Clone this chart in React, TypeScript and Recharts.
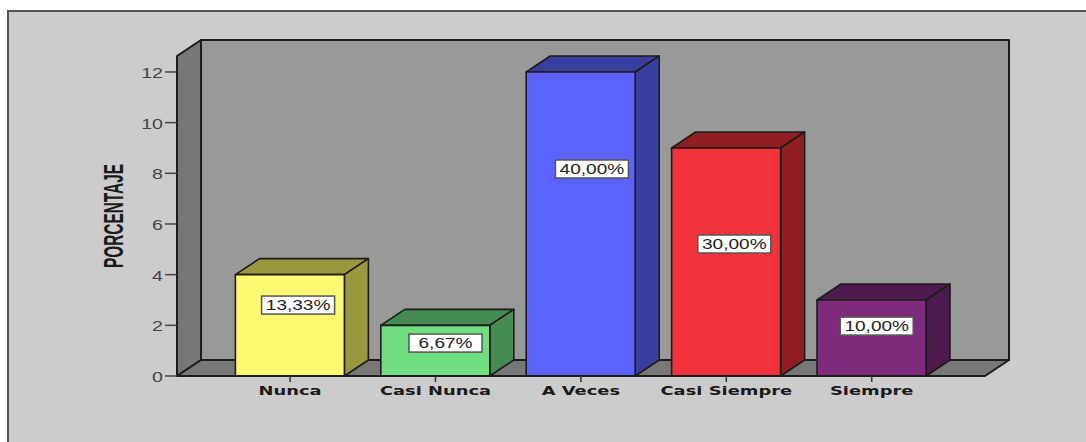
import React from 'react';
import { BarChart, Bar, Cell, XAxis, YAxis, ReferenceDot, usePlotArea } from 'recharts';

const categories = ['Nunca', 'Casi Nunca', 'A Veces', 'Casi Siempre', 'Siempre'];
const counts = [4, 2, 12, 9, 3];
const percentLabels = ['13,33%', '6,67%', '40,00%', '30,00%', '10,00%'];
// height of each label box
const labelLevels = [2.8, 1.3, 8.17, 5.21, 1.97];
const yTicks = [0, 2, 4, 6, 8, 10, 12];

const barColors = ['#fdf871', '#70dd80', '#5b63ff', '#f3333b', '#7f2a7d'];
const sideColors = ['#99983f', '#458b52', '#3a3f9f', '#8f1f23', '#4c1a4c'];
const labelShift = [8, 10, 11, 8, 5];

const DX = 24;
const DY = 16;
const EDGE = '#1c1c1c';

const data = categories.map((name, i) => ({ name, count: counts[i] }));

const Walls = () => {
  const plot = usePlotArea();
  if (!plot) return null;
  const { x, y, width, height } = plot;
  const b = y + height;
  const r = x + width;
  return (
    <g stroke={EDGE} strokeWidth={2} strokeLinejoin="round">
      <rect x={x + DX} y={y - DY} width={width} height={height} fill="#999999" />
      <polygon points={`${x},${y} ${x + DX},${y - DY} ${x + DX},${b - DY} ${x},${b}`} fill="#777777" />
      <polygon points={`${x},${b} ${x + DX},${b - DY} ${r + DX},${b - DY} ${r},${b}`} fill="#777777" />
    </g>
  );
};

const Box3D = (props: any) => {
  const { x, y, width, height, index } = props;
  const r = x + width;
  const b = y + height;
  return (
    <g stroke={EDGE} strokeWidth={1.6} strokeLinejoin="round">
      <polygon points={`${x},${y} ${x + DX},${y - DY} ${r + DX},${y - DY} ${r},${y}`} fill={sideColors[index]} />
      <polygon points={`${r},${y} ${r + DX},${y - DY} ${r + DX},${b - DY} ${r},${b}`} fill={sideColors[index]} />
      <rect x={x} y={y} width={width} height={height} fill={barColors[index]} />
    </g>
  );
};

const XTick = ({ x, y, payload }: any) => (
  <g transform={`translate(${x},${y + 11}) scale(1.49,1)`}>
    <text textAnchor="middle" fontFamily="DejaVu Sans" fontWeight="bold" fontSize={12} fill="#1a1a1a">
      {payload.value}
    </text>
  </g>
);

const YTick = ({ x, y, payload }: any) => (
  <g transform={`translate(${x},${y + 6}) scale(1.4,1)`}>
    <text textAnchor="end" fontFamily="Liberation Sans" fontSize={14} fill="#444">
      {payload.value}
    </text>
  </g>
);

const PercentBox = (props: any) => {
  const { cx, cy, i } = props;
  const mid = cx + labelShift[i];
  return (
    <g>
      <rect x={mid - 36.5} y={cy - 9} width={73} height={18} fill="#fff" stroke="#555" strokeWidth={1.5} />
      <g transform={`translate(${mid},${cy + 5}) scale(1.36,1)`}>
        <text textAnchor="middle" fontFamily="Liberation Sans" fontSize={14} fill="#222">
          {percentLabels[i]}
        </text>
      </g>
    </g>
  );
};

const AxisTitle = () => (
  <text
    transform="translate(123,216) rotate(-90)"
    textAnchor="middle"
    fontFamily="Liberation Sans"
    fontWeight="bold"
    fontSize={28}
    textLength={104}
    lengthAdjust="spacingAndGlyphs"
    fill="#1a1a1a"
  >
    PORCENTAJE
  </text>
);

export default function App() {
  return (
    <div style={{ position: 'absolute', left: 0, top: 0, width: 1086, height: 442, overflow: 'hidden', background: '#fff' }}>
      <div
        style={{
          position: 'absolute',
          left: 7,
          top: 10,
          width: 1100,
          height: 460,
          background: '#cccccc',
          border: '2px solid #555',
        }}
      />
      <div style={{ position: 'absolute', left: 0, top: 0 }}>
        <BarChart
          width={1086}
          height={442}
          data={data}
          barSize={109}
          margin={{ top: 56, right: 101, bottom: 26, left: 117 }}
        >
          <Walls />
          <XAxis
            dataKey="name"
            height={40}
            padding={{ left: 40.4, right: 40.6 }}
            tick={<XTick />}
            tickSize={6}
            axisLine={{ stroke: EDGE, strokeWidth: 2 }}
            tickLine={{ stroke: '#333', strokeWidth: 1.5 }}
            interval={0}
          />
          <YAxis
            width={60}
            domain={[0, 12.63]}
            ticks={yTicks}
            tick={<YTick />}
            tickSize={12}
            axisLine={{ stroke: EDGE, strokeWidth: 2 }}
            tickLine={{ stroke: '#444', strokeWidth: 1.5 }}
          />
          <Bar dataKey="count" shape={<Box3D />} isAnimationActive={false}>
            {categories.map((name, i) => (
              <Cell key={name} fill={barColors[i]} />
            ))}
          </Bar>
          {categories.map((name, i) => (
            <ReferenceDot
              key={name}
              x={name}
              y={labelLevels[i]}
              isFront
              shape={(p: any) => <PercentBox {...p} i={i} />}
            />
          ))}
          <AxisTitle />
        </BarChart>
      </div>
    </div>
  );
}
